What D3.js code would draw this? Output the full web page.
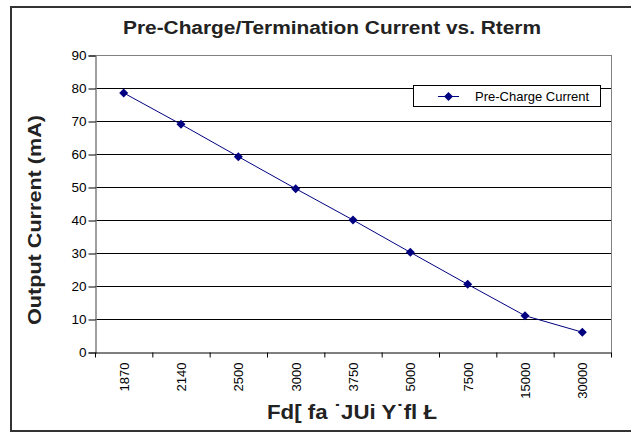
<!DOCTYPE html>
<html><head><meta charset="utf-8">
<script src="https://cdn.jsdelivr.net/npm/d3@7"></script>
<style>body{margin:0;background:#fff}svg{display:block}</style>
</head><body>
<svg id="c" width="631" height="433"></svg>
<script>
const categories = ["1870","2140","2500","3000","3750","5000","7500","15000","30000"];
const preCharge = [78.5, 69, 59.2, 49.5, 40, 30.2, 20.5, 11, 6];
const yTicks = [0,10,20,30,40,50,60,70,80,90];
const titleText = "Pre-Charge/Termination Current vs. Rterm";
const yLabel = "Output Current (mA)";
const xLabel = "Fd[ fa ˙JUi Y˙fl Ł";
const seriesName = "Pre-Charge Current";

const svg = d3.select("#c");
const font = "'Liberation Sans', Arial, sans-serif";
const L = 95, R = 611, T = 55, B = 352;

svg.append("rect").attr("x",11).attr("y",7).attr("width",640).attr("height",424)
  .attr("fill","#fff").attr("stroke","#333").attr("stroke-width",2);

const x = d3.scaleBand().domain(categories).range([L,R]);
const y = d3.scaleLinear().domain([0,90]).range([B,T]);

// gridlines
svg.append("g").selectAll("line").data(yTicks.filter(d=>d>0)).join("line")
  .attr("x1",L).attr("x2",R).attr("y1",d=>y(d)+0.5).attr("y2",d=>y(d)+0.5)
  .attr("stroke",d=>d===90?"#808080":"#000").attr("stroke-width",1);
svg.append("line").attr("x1",R+0.5).attr("x2",R+0.5).attr("y1",T).attr("y2",B).attr("stroke","#808080");

// y axis
const ya = svg.append("g").attr("transform",`translate(${L+0.5},0.5)`)
  .call(d3.axisLeft(y).tickValues(yTicks).tickSize(7).tickPadding(2));
ya.select(".domain").attr("stroke","#808080").attr("stroke-width",1.5);
ya.selectAll(".tick line").attr("stroke","#000");
ya.selectAll("text").attr("font-family",font).attr("font-size",13.5).attr("fill","#000");

// x axis
const xa = svg.append("g").attr("transform",`translate(0.5,${B+0.5})`)
  .call(d3.axisBottom(x).tickSize(5).tickSizeOuter(0));
xa.select(".domain").attr("stroke","#000");
xa.selectAll(".tick line").attr("transform",`translate(${-x.bandwidth()/2},0)`);
xa.append("line").attr("x1",R).attr("x2",R).attr("y1",0).attr("y2",5).attr("stroke","#000");
xa.selectAll(".tick text").attr("font-family",font).attr("font-size",13).attr("fill","#000")
  .attr("transform","rotate(-90)").attr("text-anchor","end").attr("dy","0.35em").attr("x",-10).attr("y",0);

// line
const cx = d => x(d)+x.bandwidth()/2;
svg.append("path").datum(preCharge.map((v,i)=>[cx(categories[i]),y(v)]))
  .attr("d",d3.line()).attr("fill","none").attr("stroke","#000080").attr("stroke-width",1);
const diamond = "M0,-4.5L4.5,0L0,4.5L-4.5,0Z";
svg.append("g").selectAll("path").data(preCharge).join("path")
  .attr("d",diamond).attr("transform",(d,i)=>`translate(${cx(categories[i])},${y(d)})`)
  .attr("fill","#000080");

// legend
const lg = svg.append("g");
lg.append("rect").attr("x",413.5).attr("y",85.5).attr("width",187).attr("height",21)
  .attr("fill","#fff").attr("stroke","#000");
lg.append("line").attr("x1",438).attr("x2",459).attr("y1",96.5).attr("y2",96.5).attr("stroke","#000080");
lg.append("path").attr("d",diamond).attr("transform","translate(448.5,96.5)").attr("fill","#000080");
lg.append("text").attr("x",475).attr("y",101).text(seriesName)
  .attr("font-family",font).attr("font-size",13).attr("fill","#000");

// titles
svg.append("text").attr("x",332).attr("y",34).attr("text-anchor","middle").text(titleText)
  .attr("font-family",font).attr("font-weight","bold").attr("font-size",18).attr("fill","#222")
  .attr("textLength",418).attr("lengthAdjust","spacingAndGlyphs");
svg.append("text").attr("transform","translate(41,220) rotate(-90)").attr("text-anchor","middle")
  .text(yLabel).attr("font-family",font).attr("font-weight","bold").attr("font-size",19).attr("fill","#222")
  .attr("textLength",210).attr("lengthAdjust","spacingAndGlyphs");
svg.append("text").attr("x",352).attr("y",419).attr("text-anchor","middle").text(xLabel)
  .attr("font-family",font).attr("font-weight","bold").attr("font-size",20).attr("fill","#222")
  .attr("textLength",170).attr("lengthAdjust","spacingAndGlyphs");
</script>
</body></html>
